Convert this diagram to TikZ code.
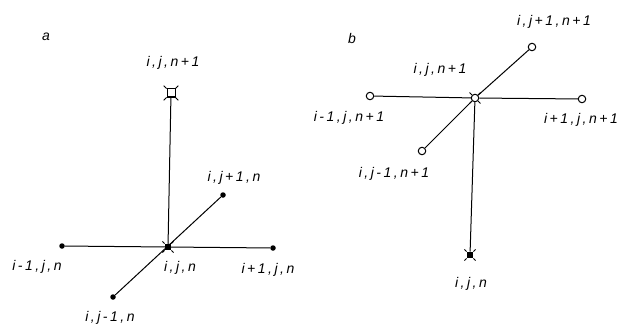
\documentclass[tikz,border=0pt]{standalone}
\usepackage{fontspec}
\setmainfont{Liberation Sans}
\newfontfamily\lblfont[LetterSpace=18]{Liberation Sans}
\begin{document}
\begin{tikzpicture}[x=1pt,y=-1pt,
  lbl/.style={font=\lblfont\itshape\fontsize{14}{16}\selectfont, inner sep=1pt},
  fdot/.style={circle,fill=black,inner sep=0pt,minimum size=5.5pt},
  odot/.style={circle,draw=black,line width=1pt,fill=white,inner sep=0pt,minimum size=7.5pt},
  fsq/.style={rectangle,fill=black,inner sep=0pt,minimum size=6.5pt},
  osq/.style={rectangle,draw=black,line width=1pt,fill=white,inner sep=0pt,minimum size=8pt},
  ln/.style={line width=1pt},
  tick/.style={line width=1pt}]
\useasboundingbox (0,0) rectangle (617,326);
% ---------- panel a ----------
\node[lbl,font=\itshape\fontsize{14}{16}\selectfont] (la) at (46,37) {a};
\node[fsq] (ac) at (168,247) {};
\node[osq] (at) at (171,93) {};
\node[fdot] (al) at (62,246) {};
\node[fdot] (ar) at (273,248) {};
\node[fdot] (ajp) at (223,195) {};
\node[fdot] (ajm) at (113,297) {};
\draw[ln] (ac.center) -- (at);
\draw[ln] (al) -- (ar);
\draw[ln] (ajm) -- (ajp);
\foreach \a in {45,135,225,315} {
  \draw[tick] (at.\a) -- ++(\a:4pt);
  \draw[tick] (ac.\a) -- ++(\a:3pt);
}
\node[lbl] (lat) at (173,63) {i,j,n+1};
\node[lbl] (lac) at (180,268) {i,j,n};
\node[lbl] (lal) at (37,267) {i-1,j,n};
\node[lbl] (lar) at (268,270) {i+1,j,n};
\node[lbl] (lajp) at (234,178) {i,j+1,n};
\node[lbl] (lajm) at (110,318) {i,j-1,n};
% ---------- panel b ----------
\node[lbl,font=\itshape\fontsize{14}{16}\selectfont] (lb) at (352,38) {b};
\node[odot] (bc) at (475,98) {};
\node[fsq] (bb) at (470,255) {};
\node[odot] (bl) at (370,96) {};
\node[odot] (br) at (582,99) {};
\node[odot] (bjp) at (532,47) {};
\node[odot] (bjm) at (422,151) {};
\draw[ln] (bl) -- (bc);
\draw[ln] (bc) -- (br);
\draw[ln] (bjm) -- (bc);
\draw[ln] (bc) -- (bjp);
\draw[ln] (bc) -- (bb);
\foreach \a in {45,135,225,315} {
  \draw[tick] (bc.\a) -- ++(\a:3.5pt);
  \draw[tick] (bb.\a) -- ++(\a:3pt);
}
\node[lbl] (lbjp) at (554,22) {i,j+1,n+1};
\node[lbl] (lbc) at (440,70) {i,j,n+1};
\node[lbl] (lbl) at (349,118) {i-1,j,n+1};
\node[lbl] (lbr) at (581,120) {i+1,j,n+1};
\node[lbl] (lbjm) at (394,174) {i,j-1,n+1};
\node[lbl] (lbb) at (471,284) {i,j,n};
\end{tikzpicture}
\end{document}
